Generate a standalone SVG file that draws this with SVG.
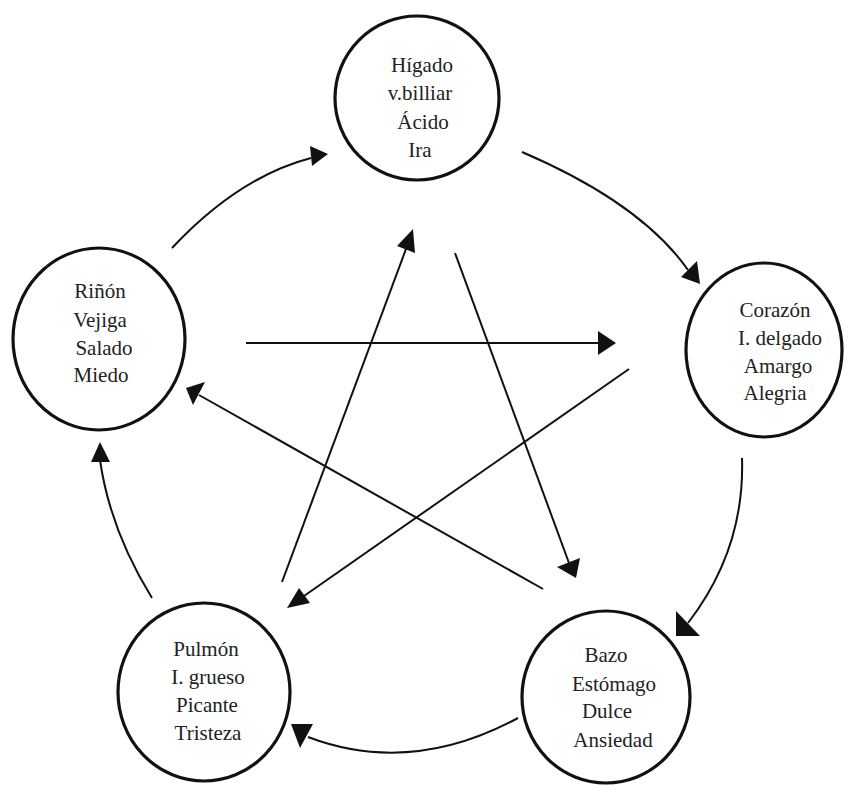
<svg xmlns="http://www.w3.org/2000/svg" width="844" height="785" viewBox="0 0 844 785">
<style>
  .node { fill: #ffffff; stroke: #111111; stroke-width: 3.2; }
  .lbl { font-family: 'Liberation Serif', 'DejaVu Serif', serif; font-size: 21px; fill: #222222; text-anchor: middle; }
  .conn { fill: none; stroke: #111111; stroke-width: 2; }
  .head { fill: #111111; stroke: none; }
</style>
<rect width="844" height="785" fill="#ffffff"/>

<g id="connectors">
  <path class="conn" d="M172,248 Q238.5,177 311,158"/>
  <polygon class="head" points="310,146 328,154 312,166"/>
  <path class="conn" d="M522,152 Q641,203 688,270"/>
  <polygon class="head" points="681,277 697,261 700,284"/>
  <path class="conn" d="M742,458 Q745,549 688,623"/>
  <polygon class="head" points="676,611 700,636 676,636"/>
  <path class="conn" d="M518,718 Q411,776 308,737"/>
  <polygon class="head" points="291,724 313,724 300,748"/>
  <path class="conn" d="M152,598 Q110,530 100,460"/>
  <polygon class="head" points="91,462 110,462 100,442"/>
  <line class="conn" x1="246" y1="343" x2="600" y2="343"/>
  <polygon class="head" points="616,343 598,331 598,355"/>
  <line class="conn" x1="455" y1="253" x2="569" y2="563"/>
  <polygon class="head" points="576,578 557,567 580,558"/>
  <line class="conn" x1="282" y1="582" x2="406" y2="249"/>
  <polygon class="head" points="413,229 415,253 397,246"/>
  <line class="conn" x1="629" y1="369" x2="304" y2="596"/>
  <polygon class="head" points="287,608 299,588 310,603"/>
  <line class="conn" x1="543" y1="589" x2="199" y2="395"/>
  <polygon class="head" points="186,388 205,382 193,405"/>
</g>

<g id="higado" font-family="Liberation Serif, serif">
  <ellipse class="node" cx="417" cy="98" rx="82" ry="82"/>
  <text class="lbl" x="422" y="72">Hígado</text>
  <text class="lbl" x="420" y="100">v.billiar</text>
  <text class="lbl" x="423" y="129">Ácido</text>
  <text class="lbl" x="420" y="157">Ira</text>
</g>

<g id="corazon">
  <ellipse class="node" cx="764" cy="350" rx="78" ry="87"/>
  <text class="lbl" x="775" y="317">Corazón</text>
  <text class="lbl" x="780" y="345">I. delgado</text>
  <text class="lbl" x="778" y="373">Amargo</text>
  <text class="lbl" x="775" y="400">Alegria</text>
</g>

<g id="bazo">
  <ellipse class="node" cx="606" cy="697" rx="84" ry="86"/>
  <text class="lbl" x="606" y="662">Bazo</text>
  <text class="lbl" x="614" y="691">Estómago</text>
  <text class="lbl" x="607" y="718">Dulce</text>
  <text class="lbl" x="613" y="747">Ansiedad</text>
</g>

<g id="pulmon">
  <ellipse class="node" cx="204" cy="692" rx="86" ry="89"/>
  <text class="lbl" x="206" y="656">Pulmón</text>
  <text class="lbl" x="208" y="684">I. grueso</text>
  <text class="lbl" x="207" y="712">Picante</text>
  <text class="lbl" x="208" y="740">Tristeza</text>
</g>

<g id="rinon">
  <ellipse class="node" cx="99" cy="339" rx="86" ry="91"/>
  <text class="lbl" x="100" y="298">Riñón</text>
  <text class="lbl" x="100" y="327">Vejiga</text>
  <text class="lbl" x="104" y="355">Salado</text>
  <text class="lbl" x="101" y="382">Miedo</text>
</g>
</svg>
